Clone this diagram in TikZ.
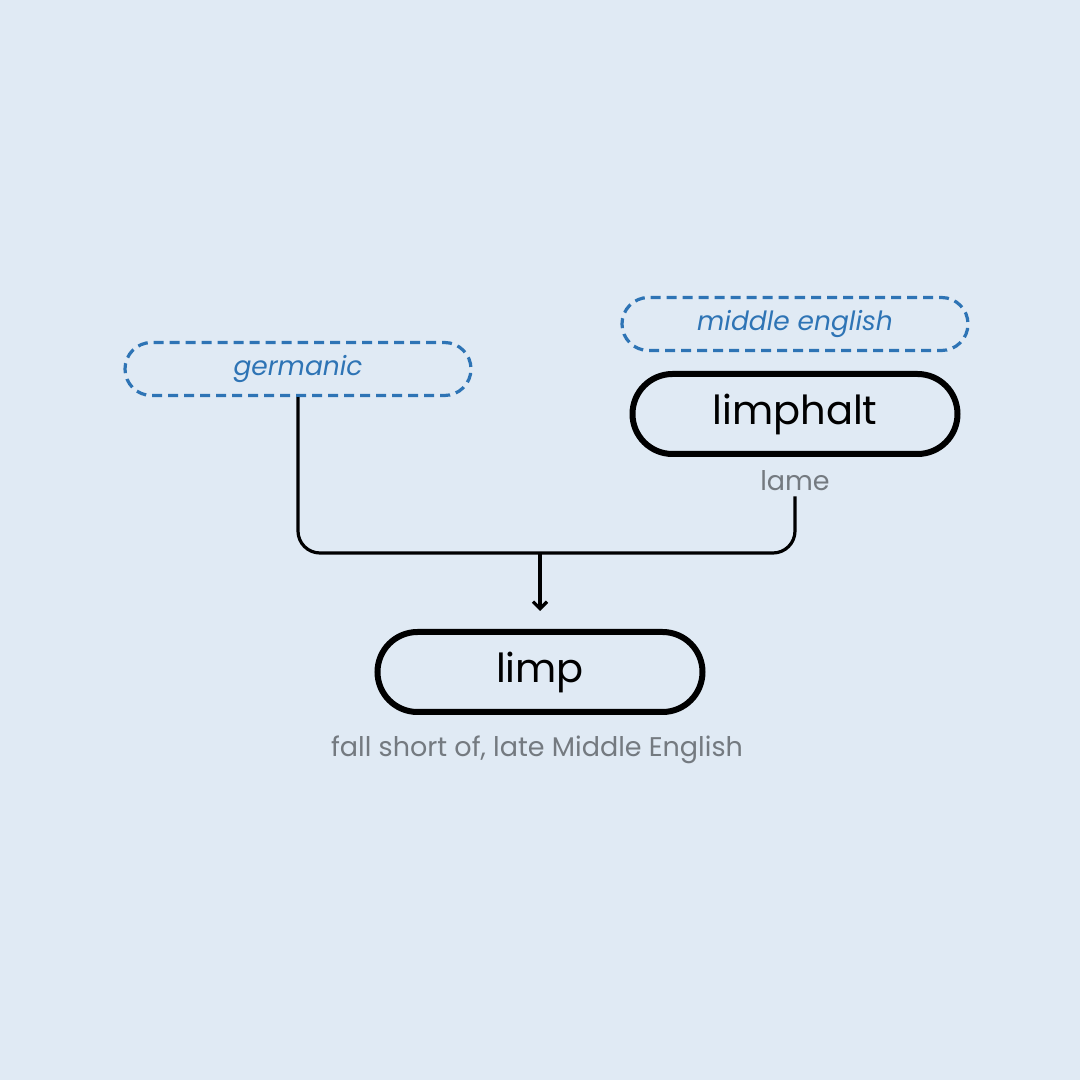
\documentclass[tikz,border=0pt]{standalone}
\usepackage{fontspec}
\setmainfont{Poppins}
\usetikzlibrary{arrows.meta, positioning, shapes.misc}
\definecolor{bgblue}{HTML}{E0EAF4}
\definecolor{langblue}{HTML}{2E74B5}
\definecolor{glossgray}{HTML}{747A80}
\tikzset{
    language/.style = {
      rounded rectangle, draw=langblue, line width=3.2pt, dash pattern=on 10pt off 6pt,
      minimum width=346pt, minimum height=53pt, inner sep=0,
      text=langblue, font=\fontsize{26.5}{30}\selectfont\itshape,
    },
    word/.style = {
      rounded rectangle, draw=black, line width=6pt,
      minimum width=325pt, minimum height=80pt, inner sep=0,
      font=\fontsize{40}{46}\selectfont,
    },
    gloss/.style = {
      text=glossgray, inner sep=0, font=\fontsize{27}{31}\selectfont,
    },
    link/.style = {
      line width=3.2pt, rounded corners=22pt,
    },
    descent/.style = {
      line width=3.2pt, arrows={-Straight Barb[length=7pt, width=14pt]}, shorten >=18pt,
    },
}
\begin{document}
\begin{tikzpicture}[x=1pt, y=1pt]
    %% Background and page size
    \fill [bgblue] (0,0) rectangle (1080,1080);
    \useasboundingbox (0,0) rectangle (1080,1080);

    %% Sources, the word and their glosses
    \node [language] (germanic) at (298,711) {germanic};
    \node [language] (middle) at (795,756) {middle english};
    \node [word] (limphalt) at (795,666) {limphalt};
    \node [gloss] (lame) at (795,599) {lame};
    \node [word] (limp) at (540,408) {limp};
    \node [gloss] (limpgloss) at (537,330) {fall short of, late Middle English};

    %% Merge the two sources into one arrow
    \coordinate (merge) at (540,527);
    \draw [link] (germanic.south) |- (merge) -| ([yshift=-5pt] lame.south);
    \draw [descent] (merge) -- (limp.north);
  \end{tikzpicture}
\end{document}
